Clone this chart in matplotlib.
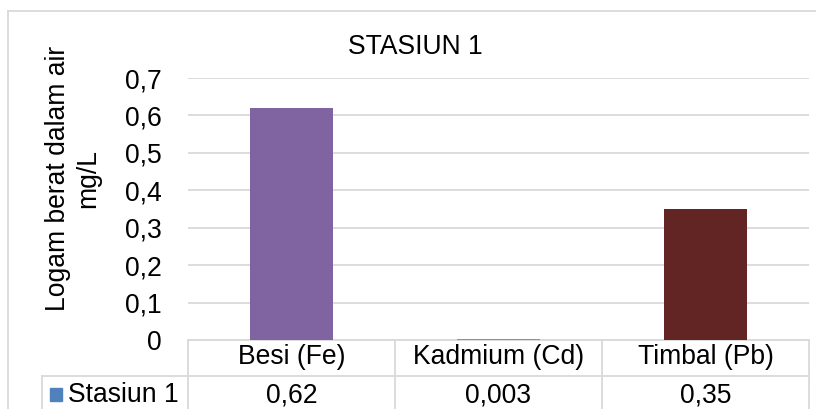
import numpy as np
import matplotlib
matplotlib.use('Agg')
import matplotlib.pyplot as plt
from matplotlib.lines import Line2D
from matplotlib.patches import Rectangle
from matplotlib.ticker import FuncFormatter, MultipleLocator

plt.rcParams['font.family'] = ['Liberation Sans', 'DejaVu Sans']

categories = ['Besi (Fe)', 'Kadmium (Cd)', 'Timbal (Pb)']
values = [0.62, 0.003, 0.35]
value_labels = ['0,62', '0,003', '0,35']
series_name = 'Stasiun 1'
title = 'STASIUN 1'
ylabel = 'Logam berat dalam air\nmg/L'

bar_colors = ['#8064A2', '#4BACC6', '#632523']
key_color = '#4F81BD'
grid_color = '#D9D9D9'
fs = 19.1

W, H = 816, 409
fig = plt.figure(figsize=(W / 100, H / 100), dpi=100)

def fx(px):
    return px / W

def fy(py):
    return 1 - py / H

# plot area in pixels
left, right, top, bottom = 188, 809, 78, 340
ax = fig.add_axes([fx(left), fy(bottom), fx(right - left), fy(top) - fy(bottom)])

x = np.arange(len(categories)) + 0.5
ax.bar(x, values, width=0.4, color=bar_colors, zorder=3)
ax.set_xlim(0, len(categories))
ax.set_ylim(0, 0.7)

ax.yaxis.set_major_locator(MultipleLocator(0.1))
ax.yaxis.set_major_formatter(FuncFormatter(lambda v, p: '0' if abs(v) < 1e-9 else ('%.1f' % v).replace('.', ',')))
ax.tick_params(axis='y', length=0, pad=19, labelsize=fs)
ax.set_xticks([])
ax.grid(axis='y', color=grid_color, linewidth=1.3, zorder=0)
for s in ['left', 'right', 'top']:
    ax.spines[s].set_visible(False)
ax.spines['bottom'].set_color(grid_color)
ax.spines['bottom'].set_linewidth(1.3)

# data table under the axis
ph = bottom - top
def ay(py):
    return -(py - bottom) / ph

trans = ax.get_xaxis_transform()
row_split = ay(376)
table_bottom = ay(412)
key_left = (42 - left) / ((right - left) / len(categories))
for xv in range(len(categories) + 1):
    ax.add_line(Line2D([xv, xv], [0, table_bottom], transform=trans, color=grid_color,
                       lw=1.3, clip_on=False))
ax.add_line(Line2D([key_left, len(categories)], [row_split, row_split], transform=trans,
                   color=grid_color, lw=1.3, clip_on=False))
ax.add_line(Line2D([key_left, key_left], [row_split, table_bottom], transform=trans,
                   color=grid_color, lw=1.3, clip_on=False))
for xi, cat, lab in zip(x, categories, value_labels):
    ax.text(xi, ay(357), cat, transform=trans, ha='center', va='center', fontsize=fs, clip_on=False)
    ax.text(xi, ay(395), lab, transform=trans, ha='center', va='center', fontsize=fs, clip_on=False)

# legend key in the table
fig.add_artist(Rectangle((fx(50), fy(401)), fx(12), fy(388) - fy(401), color=key_color))
fig.text(fx(68), fy(395), series_name, ha='left', va='center', fontsize=fs)

# title and axis label
fig.text(fx(415), fy(47), title, ha='center', va='center', fontsize=fs)
fig.text(fx(73), fy(178), ylabel, ha='center', va='center', rotation=90,
         fontsize=fs, linespacing=1.2, multialignment='center')

# chart border
fig.add_artist(Line2D([fx(8), fx(8)], [fy(11), 0], color=grid_color, lw=1.3))
fig.add_artist(Line2D([fx(8), 1], [fy(11), fy(11)], color=grid_color, lw=1.3))

fig.savefig('out.png', dpi=100)
